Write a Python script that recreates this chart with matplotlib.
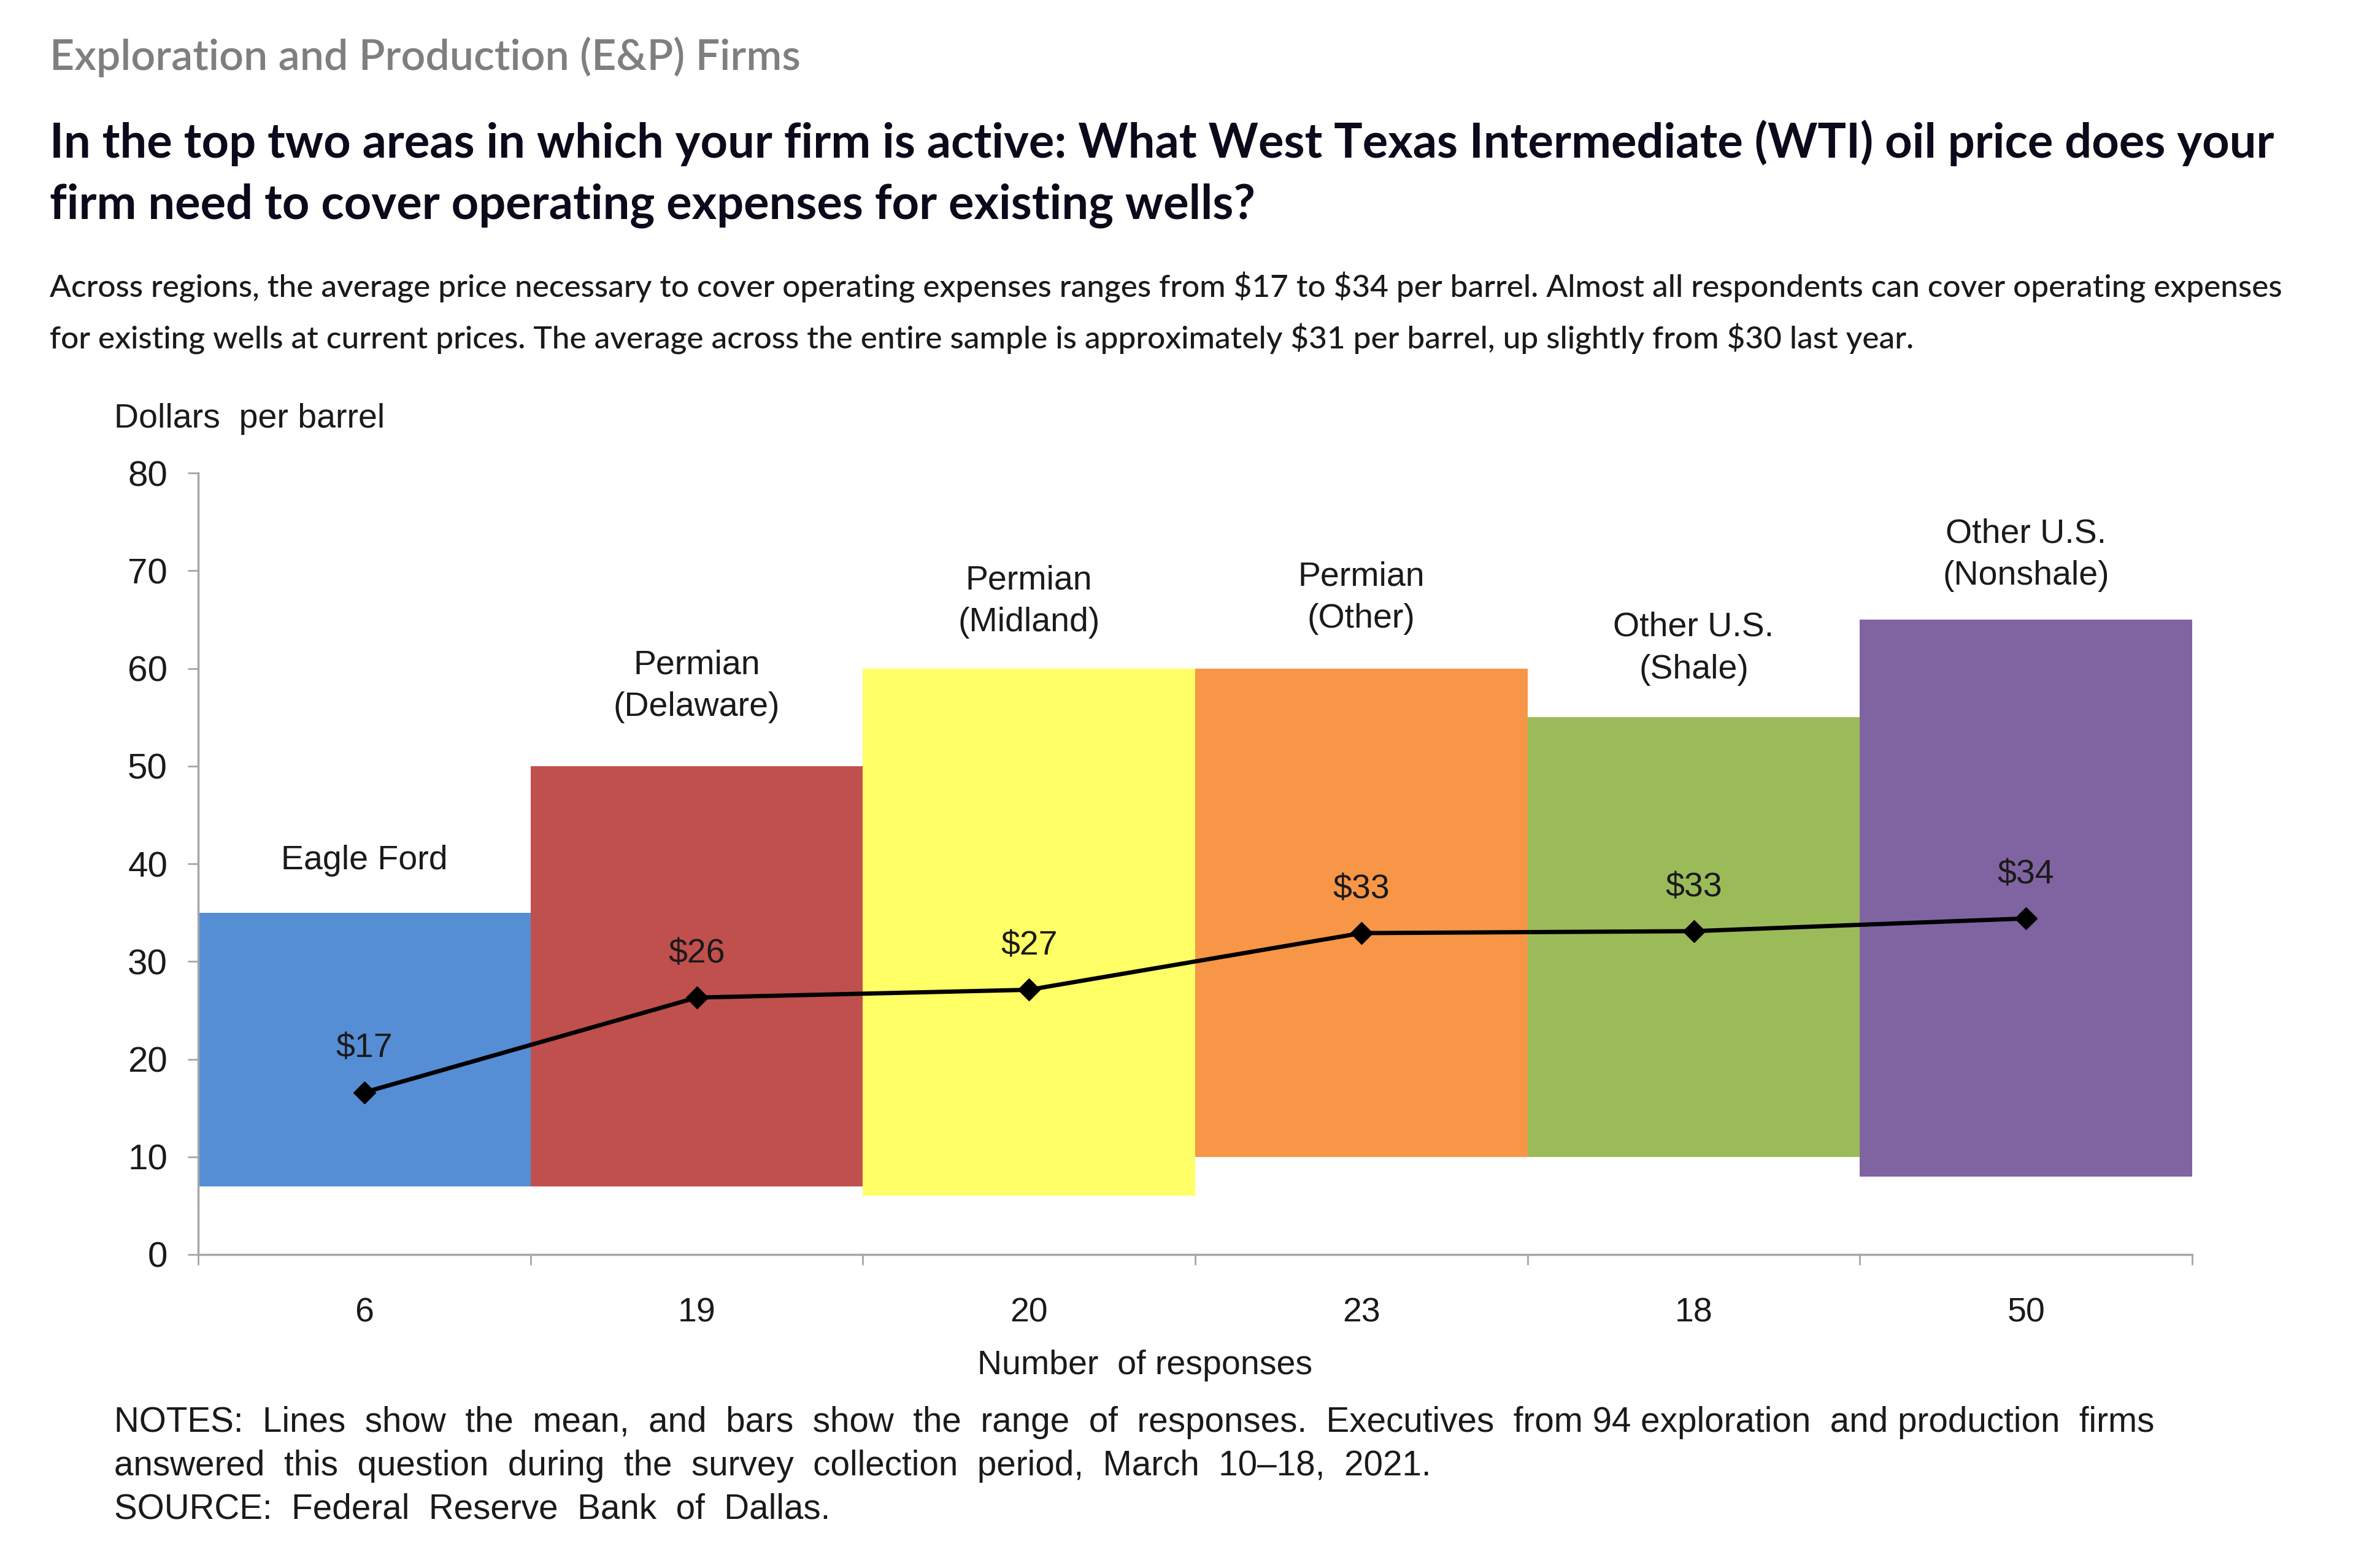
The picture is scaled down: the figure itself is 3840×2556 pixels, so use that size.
import matplotlib
matplotlib.use("Agg")
import matplotlib.pyplot as plt
import numpy as np

# ---------------- data ----------------
regions = ["Eagle Ford", "Permian\n(Delaware)", "Permian\n(Midland)",
           "Permian\n(Other)", "Other U.S.\n(Shale)", "Other U.S.\n(Nonshale)"]
responses = ["6", "19", "20", "23", "18", "50"]
range_low = [7, 7, 6, 10, 10, 8]
range_high = [35, 50, 60, 60, 55, 65]
mean_price = [16.6, 26.3, 27.1, 32.9, 33.1, 34.4]
mean_labels = ["$17", "$26", "$27", "$33", "$33", "$34"]
y_ticks = [0, 10, 20, 30, 40, 50, 60, 70, 80]

colors = ["#558ED5", "#C0504D", "#FFFF66", "#F79646", "#9BBB59", "#8064A2"]
label_gap_pts = [42, 50, 35, 39, 37, 32]   # gap between bar top and region label

W, H = 3840, 2556
fig = plt.figure(figsize=(W / 100, H / 100), dpi=100)
fig.patch.set_facecolor("white")
renderer = fig.canvas.get_renderer()

HEAD_FONT = ["Lato", "DejaVu Sans"]
CHART_FONT = ["Liberation Sans", "DejaVu Sans"]


def fx(px):
    return px / W


def fy(py):
    return 1 - py / H


def fit_text(px, py, s, target_w, **kw):
    t = fig.text(fx(px), fy(py), s, fontsize=20, parse_math=False, **kw)
    w = t.get_window_extent(renderer).width
    size = 20 * target_w / w
    t.set_fontsize(size)
    return t, size


# ---------------- header texts ----------------
_, hs = fit_text(81, 93, "Exploration and Production (E&P) Firms", 1224,
                 family=HEAD_FONT, weight="semibold", color="#7F7F7F", va="center", ha="left")

_, ts = fit_text(81, 233,
                 "In the top two areas in which your firm is active: What West Texas Intermediate (WTI) oil price does your",
                 3624, family=HEAD_FONT, weight="bold", color="#0A0A1A", va="center", ha="left")
fig.text(fx(81), fy(335), "firm need to cover operating expenses for existing wells?",
         fontsize=ts, family=HEAD_FONT, weight="bold", color="#0A0A1A", va="center", ha="left",
         parse_math=False)

_, ps = fit_text(81, 468,
                 "Across regions, the average price necessary to cover operating expenses ranges from $17 to $34 per barrel. Almost all respondents can cover operating expenses",
                 3649, family=HEAD_FONT, weight="medium", color="#1A1A1A", va="center", ha="left")
fig.text(fx(81), fy(553),
         "for existing wells at current prices. The average across the entire sample is approximately $31 per barrel, up slightly from $30 last year.",
         fontsize=ps, family=HEAD_FONT, weight="medium", color="#1A1A1A", va="center", ha="left",
         parse_math=False)

# ---------------- chart ----------------
CS = 40
ax = fig.add_axes([fx(323), fy(2045), fx(3573) - fx(323), fy(771) - fy(2045)])
x = np.arange(len(regions))
low = np.array(range_low)
high = np.array(range_high)
ax.bar(x, high - low, bottom=low, width=1.0, color=colors, edgecolor="none", zorder=1)
ax.plot(x, mean_price, color="black", lw=5, marker="D", ms=18, zorder=3)

for i in range(len(regions)):
    ax.annotate(mean_labels[i], (x[i], mean_price[i]), xytext=(0, 51),
                textcoords="offset points", ha="center", va="center",
                fontsize=CS, family=CHART_FONT, color="#1A1A1A", annotation_clip=False,
                zorder=4).set_parse_math(False)
    ax.annotate(regions[i], (x[i], high[i]), xytext=(0, label_gap_pts[i]),
                textcoords="offset points", ha="center", va="bottom",
                fontsize=CS, family=CHART_FONT, color="#1A1A1A", linespacing=1.42,
                annotation_clip=False, zorder=4)

ax.set_xlim(-0.5, len(regions) - 0.5)
ax.set_ylim(0, 80)
for s in ["top", "right"]:
    ax.spines[s].set_visible(False)
for s in ["left", "bottom"]:
    ax.spines[s].set_color("#A6A6A6")
    ax.spines[s].set_linewidth(2.5)

ax.set_yticks(y_ticks)
ax.set_yticklabels([str(v) for v in y_ticks], fontsize=CS + 2, family=CHART_FONT, color="#1A1A1A")
ax.tick_params(axis="y", direction="out", length=12, width=2, color="#A6A6A6", pad=24)

ax.set_xticks(np.arange(-0.5, len(regions), 1.0))
ax.set_xticklabels([""] * (len(regions) + 1))
ax.tick_params(axis="x", which="major", direction="out", length=12, width=2, color="#A6A6A6")
ax.set_xticks(x, minor=True)
ax.set_xticklabels(responses, minor=True, fontsize=CS, family=CHART_FONT, color="#1A1A1A")
ax.tick_params(axis="x", which="minor", length=0, pad=50)

fig.text(fx(186), fy(683), "Dollars  per barrel", fontsize=CS, family=CHART_FONT,
         color="#1A1A1A", va="center", ha="left")
fig.text(fx(1866), fy(2226), "Number  of responses", fontsize=CS, family=CHART_FONT,
         color="#1A1A1A", va="center", ha="center")

_, ns = fit_text(186, 2319,
                 "NOTES:  Lines  show  the  mean,  and  bars  show  the  range  of  responses.  Executives  from 94 exploration  and production  firms",
                 3321, family=CHART_FONT, color="#1A1A1A", va="center", ha="left")
fig.text(fx(186), fy(2390),
         "answered  this  question  during  the  survey  collection  period,  March  10\u201318,  2021.",
         fontsize=ns, family=CHART_FONT, color="#1A1A1A", va="center", ha="left", parse_math=False)
fig.text(fx(186), fy(2461), "SOURCE:  Federal  Reserve  Bank  of  Dallas.",
         fontsize=ns, family=CHART_FONT, color="#1A1A1A", va="center", ha="left", parse_math=False)

fig.savefig("out.png", dpi=100, facecolor="white")
